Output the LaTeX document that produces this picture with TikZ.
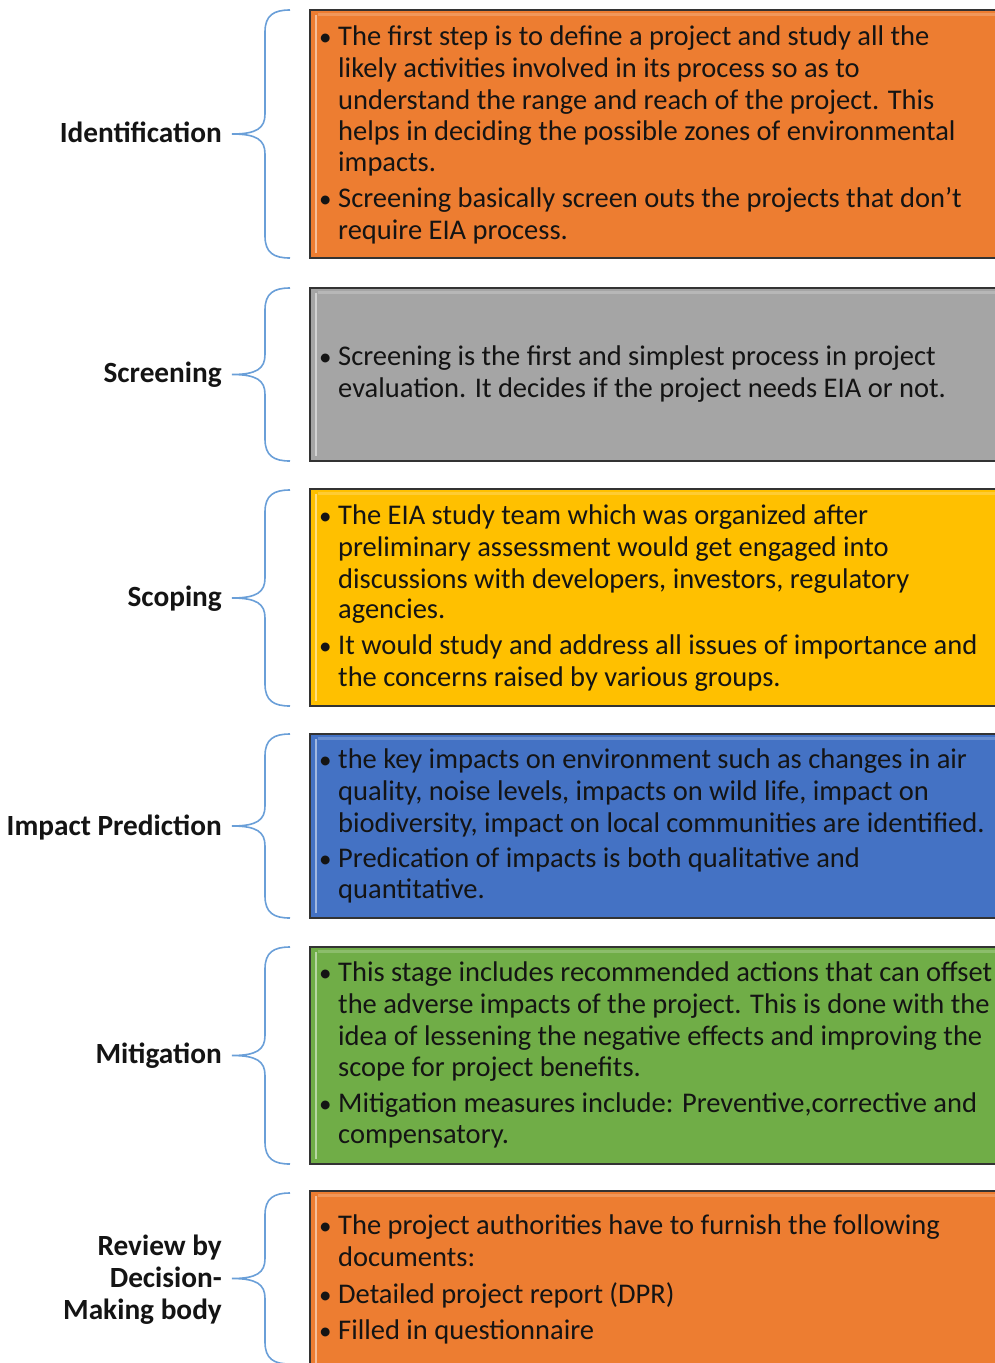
\documentclass[tikz,border=0pt]{standalone}
\usepackage{fontspec}
\setmainfont{Carlito}
\definecolor{cOrange}{HTML}{ED7D31}
\definecolor{cGray}{HTML}{A5A5A5}
\definecolor{cGold}{HTML}{FFC000}
\definecolor{cBlue}{HTML}{4472C4}
\definecolor{cGreen}{HTML}{70AD47}
\definecolor{cBrace}{HTML}{6A9FD8}
\definecolor{cText}{HTML}{141414}
\tikzset{
  box/.style={draw=black!80, line width=1.4pt, anchor=north west, minimum width=700pt, inner sep=0pt, outer sep=0pt},
  tl/.style={anchor=base west, inner sep=0pt, text=cText, font=\fontsize{28.5}{34}\selectfont},
  bul/.style={anchor=base west, inner sep=0pt, text=cText, font=\fontsize{25}{34}\selectfont},
  lab/.style={anchor=base east, inner sep=0pt, text=cText, font=\fontsize{29.3}{34}\selectfont\bfseries},
  brc/.style={draw=cBrace, line width=1.6pt},
  bevel/.style={draw=white, opacity=0.5, line width=2.2pt},
  tbevel/.style={draw=white, opacity=0.2, line width=3pt}
}
\newcommand\tline[3]{\node[tl] (#1) at (338,#2) {#3};}
\newcommand\bline[3]{\node[bul] (#1b) at (319,#2) {•};\node[tl] (#1) at (338,#2) {#3};}
\newcommand\mybrace[2]{%
  \pgfmathsetmacro\bmid{(#1+#2)/2}%
  \draw[brc] (290,#1) .. controls (274,#1) and (265,#1+5) .. (265,#1+22)
    -- (265,\bmid-20) .. controls (265,\bmid-6) and (257,\bmid) .. (232,\bmid)
    .. controls (257,\bmid) and (265,\bmid+6) .. (265,\bmid+20)
    -- (265,#2-22) .. controls (265,#2-5) and (274,#2) .. (290,#2);}
\newcommand\mybox[4]{%
  \node[box, fill=#2, minimum height=#4pt] (#1) at (310,#3) {};
  \draw[bevel] (316,#3+5) -- (316,#3+#4-5);
  \draw[tbevel] (318,#3+4) -- (1000,#3+4);}
\begin{document}
\begin{tikzpicture}[x=1pt,y=-1pt]
\useasboundingbox (0,0) rectangle (995,1363);
% boxes
\mybox{b1}{cOrange}{10}{248}
\mybox{b2}{cGray}{288}{173}
\mybox{b3}{cGold}{489}{217}
\mybox{b4}{cBlue}{734}{184}
\mybox{b5}{cGreen}{947}{217}
\mybox{b6}{cOrange}{1191}{190}
% braces
\mybrace{10}{258}
\mybrace{288}{461}
\mybrace{490}{706}
\mybrace{734}{918}
\mybrace{947}{1164}
\mybrace{1193}{1364}
% labels
\node[lab] (l1) at (222,142) {Identification};
\node[lab] (l2) at (222,382) {Screening};
\node[lab] (l3) at (222,606) {Scoping};
\node[lab] (l4) at (222,835) {Impact Prediction};
\node[lab] (l5) at (222,1063) {Mitigation};
\node[lab] (l6a) at (222,1255) {Review by};
\node[lab] (l6b) at (222,1287) {Decision-};
\node[lab] (l6c) at (222,1319) {Making body};
% box 1
\bline{a1}{45.5}{The first step is to define a project and study all the}
\tline{a2}{77.5}{likely activities involved in its process so as to}
\tline{a3}{109.5}{understand the range and reach of the project. This}
\tline{a4}{140.5}{helps in deciding the possible zones of environmental}
\tline{a5}{171.5}{impacts.}
\bline{a6}{207.5}{Screening basically screen outs the projects that don’t}
\tline{a7}{239.5}{require EIA process.}
% box 2
\bline{c1}{365.5}{Screening is the first and simplest process in project}
\tline{c2}{397.5}{evaluation. It decides if the project needs EIA or not.}
% box 3
\bline{d1}{524.5}{The EIA study team which was organized after}
\tline{d2}{556.5}{preliminary assessment would get engaged into}
\tline{d3}{588.5}{discussions with developers, investors, regulatory}
\tline{d4}{618.5}{agencies.}
\bline{d5}{654.5}{It would study and address all issues of importance and}
\tline{d6}{686.5}{the concerns raised by various groups.}
% box 4
\bline{e1}{768.5}{the key impacts on environment such as changes in air}
\tline{e2}{800.5}{quality, noise levels, impacts on wild life, impact on}
\tline{e3}{832.5}{biodiversity, impact on local communities are identified.}
\bline{e4}{867.5}{Predication of impacts is both qualitative and}
\tline{e5}{898.5}{quantitative.}
% box 5
\bline{f1}{981.5}{This stage includes recommended actions that can offset}
\tline{f2}{1013.5}{the adverse impacts of the project. This is done with the}
\tline{f3}{1045.5}{idea of lessening the negative effects and improving the}
\tline{f4}{1076.5}{scope for project benefits.}
\bline{f5}{1112.5}{Mitigation measures include: Preventive,corrective and}
\tline{f6}{1143.5}{compensatory.}
% box 6
\bline{g1}{1234.5}{The project authorities have to furnish the following}
\tline{g2}{1266.5}{documents:}
\bline{g3}{1303.5}{Detailed project report (DPR)}
\bline{g4}{1339.5}{Filled in questionnaire}
\end{tikzpicture}
\end{document}
